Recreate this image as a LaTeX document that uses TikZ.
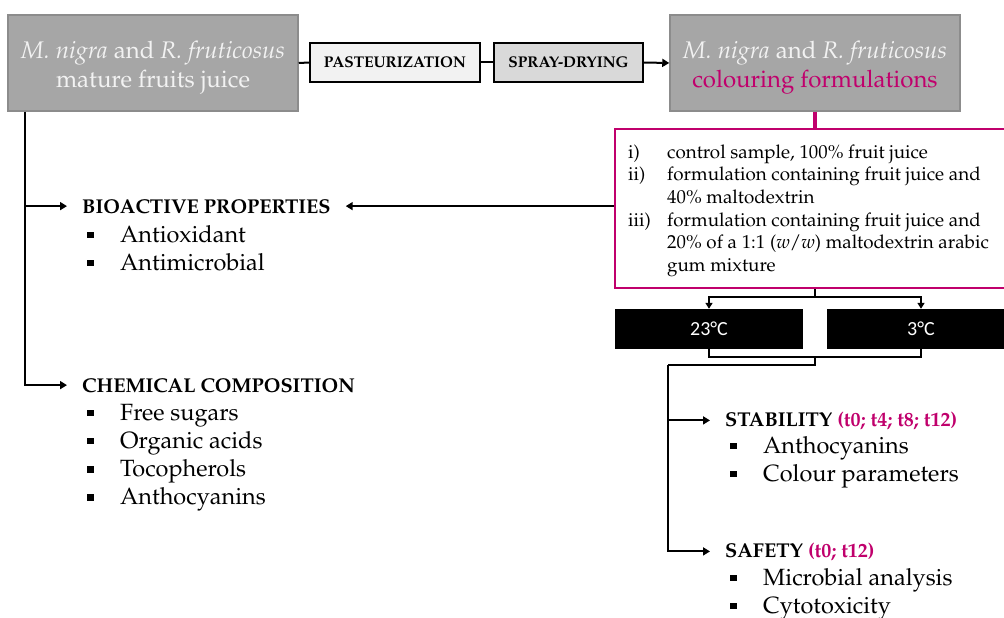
\documentclass[tikz,border=0pt]{standalone}
\usepackage{fontspec}
\newfontfamily\carlito{Carlito}
\usepackage[T1]{fontenc}
\usepackage{mathpazo}
\usetikzlibrary{arrows.meta}

\definecolor{berry}{RGB}{192,0,108}
\definecolor{boxgray}{RGB}{166,166,166}
\definecolor{edgegray}{RGB}{140,140,140}
\definecolor{pale}{RGB}{242,242,242}
\definecolor{midgray}{RGB}{217,217,217}
\newcommand{\sqb}{\makebox[33pt][l]{\rule[4pt]{6.5pt}{6.5pt}}}

\tikzset{
  fruitbox/.style={draw=edgegray, line width=1.5pt, fill=boxgray, text=pale,
    minimum width=290pt, minimum height=96pt, align=center,
    font=\fontsize{24}{29}\selectfont},
  stepbox/.style={draw=black, line width=1.5pt, minimum height=39pt,
    font=\bfseries\fontsize{15.5}{18}\selectfont},
  tempbar/.style={fill=black, text=white, minimum width=188pt, minimum height=40pt,
    font=\carlito\fontsize{20}{24}\selectfont},
  head/.style={anchor=base west, inner xsep=15pt, inner ysep=0pt,
    font=\bfseries\fontsize{20}{24}\selectfont},
  items/.style={anchor=base west, inner sep=0pt, font=\fontsize{23.5}{28.3}\selectfont},
  link/.style={line width=2pt},
  arr/.style={line width=2pt, -{Triangle[length=7pt,width=8pt]}},
  wire/.style={line width=1.6pt},
  wirearr/.style={line width=1.6pt, -{Triangle[length=6pt,width=7pt]}},
}

\begin{document}
\begin{tikzpicture}[x=1pt, y=-1pt]
  \useasboundingbox (0,0) rectangle (1004,618);
  \clip (0,0) rectangle (1004,618);

  % top row
  \node (juice) [fruitbox] at (153,63)
    {\rule{0pt}{27pt}\textit{M. nigra} and \textit{R. fruticosus}\\mature fruits juice};
  \node (past) [stepbox, fill=pale, minimum width=170pt] at (395,62.5) {PASTEURIZATION};
  \node (spray) [stepbox, fill=midgray, minimum width=149pt] at (568.5,62.5) {SPRAY-DRYING};
  \node (colour) [fruitbox] at (815,63)
    {\rule{0pt}{27pt}\textit{M. nigra} and \textit{R. fruticosus}\\\textcolor{berry}{colouring formulations}};

  % formulations
  \node (samples) [draw=berry, line width=2.5pt, minimum width=400pt, minimum height=159pt] at (815,208.5) {};
  \node (samptxt) [anchor=base west, inner sep=0pt, font=\fontsize{18.8}{22.7}\selectfont] at (628,158)
    {\begin{tabular}[t]{@{}p{39pt}@{}l@{}}
      i)   & control sample, 100\% fruit juice\\
      ii)  & formulation containing fruit juice and\\
           & 40\% maltodextrin\\
      iii) & formulation containing fruit juice and\\
           & 20\% of a 1:1 (\textit{w}/\textit{w}) maltodextrin arabic\\
           & gum mixture
    \end{tabular}};

  % storage
  \node (warm) [tempbar] at (709,329) {23°C};
  \node (cold) [tempbar] at (921,329) {3°C};

  % analyses
  \node (bio) [head] at (67,213) {BIOACTIVE PROPERTIES};
  \node (bioitems) [items] at (87,242)
    {\begin{tabular}[t]{@{}l@{}}\sqb Antioxidant\\ \sqb Antimicrobial\end{tabular}};
  \node (chem) [head] at (67,392) {CHEMICAL COMPOSITION};
  \node (chemitems) [items] at (87,420)
    {\begin{tabular}[t]{@{}l@{}}\sqb Free sugars\\ \sqb Organic acids\\ \sqb Tocopherols\\ \sqb Anthocyanins\end{tabular}};
  \node (stab) [head] at (710,426) {STABILITY \textcolor{berry}{(t0; t4; t8; t12)}};
  \node (stabitems) [items] at (730,453)
    {\begin{tabular}[t]{@{}l@{}}\sqb Anthocyanins\\ \sqb Colour parameters\end{tabular}};
  \node (safe) [head] at (710,557) {SAFETY \textcolor{berry}{(t0; t12)}};
  \node (safeitems) [items] at (730,585)
    {\begin{tabular}[t]{@{}l@{}}\sqb Microbial analysis\\ \sqb Cytotoxicity\end{tabular}};

  % connectors
  \draw[link] (juice.east) -- (past.west);
  \draw[link] (past.east) -- (spray.west);
  \draw[arr] (spray.east) -- (colour.west);
  \draw[berry, line width=4pt] (colour.south) -- (samples.north);

  \coordinate (jdown) at ([xshift=18pt]juice.south west);
  \draw[arr] (jdown) |- (bio.west);
  \draw[arr] (jdown) |- (chem.west);
  \draw[arr] (samples.west |- bio.east) -- (bio.east);

  \coordinate (split) at (815,297);
  \draw[wire] (samples.south) -- (split);
  \draw[wirearr] (split) -| (warm.north);
  \draw[wirearr] (split) -| (cold.north);
  \coordinate (merge) at (815,357);
  \draw[wire] (warm.south) |- (merge) -| (cold.south);
  \coordinate (trunk) at (668,365);
  \draw[wire] (merge) |- (trunk);
  \draw[arr] (trunk) |- (stab.west);
  \draw[arr] (trunk) |- (safe.west);
\end{tikzpicture}
\end{document}
